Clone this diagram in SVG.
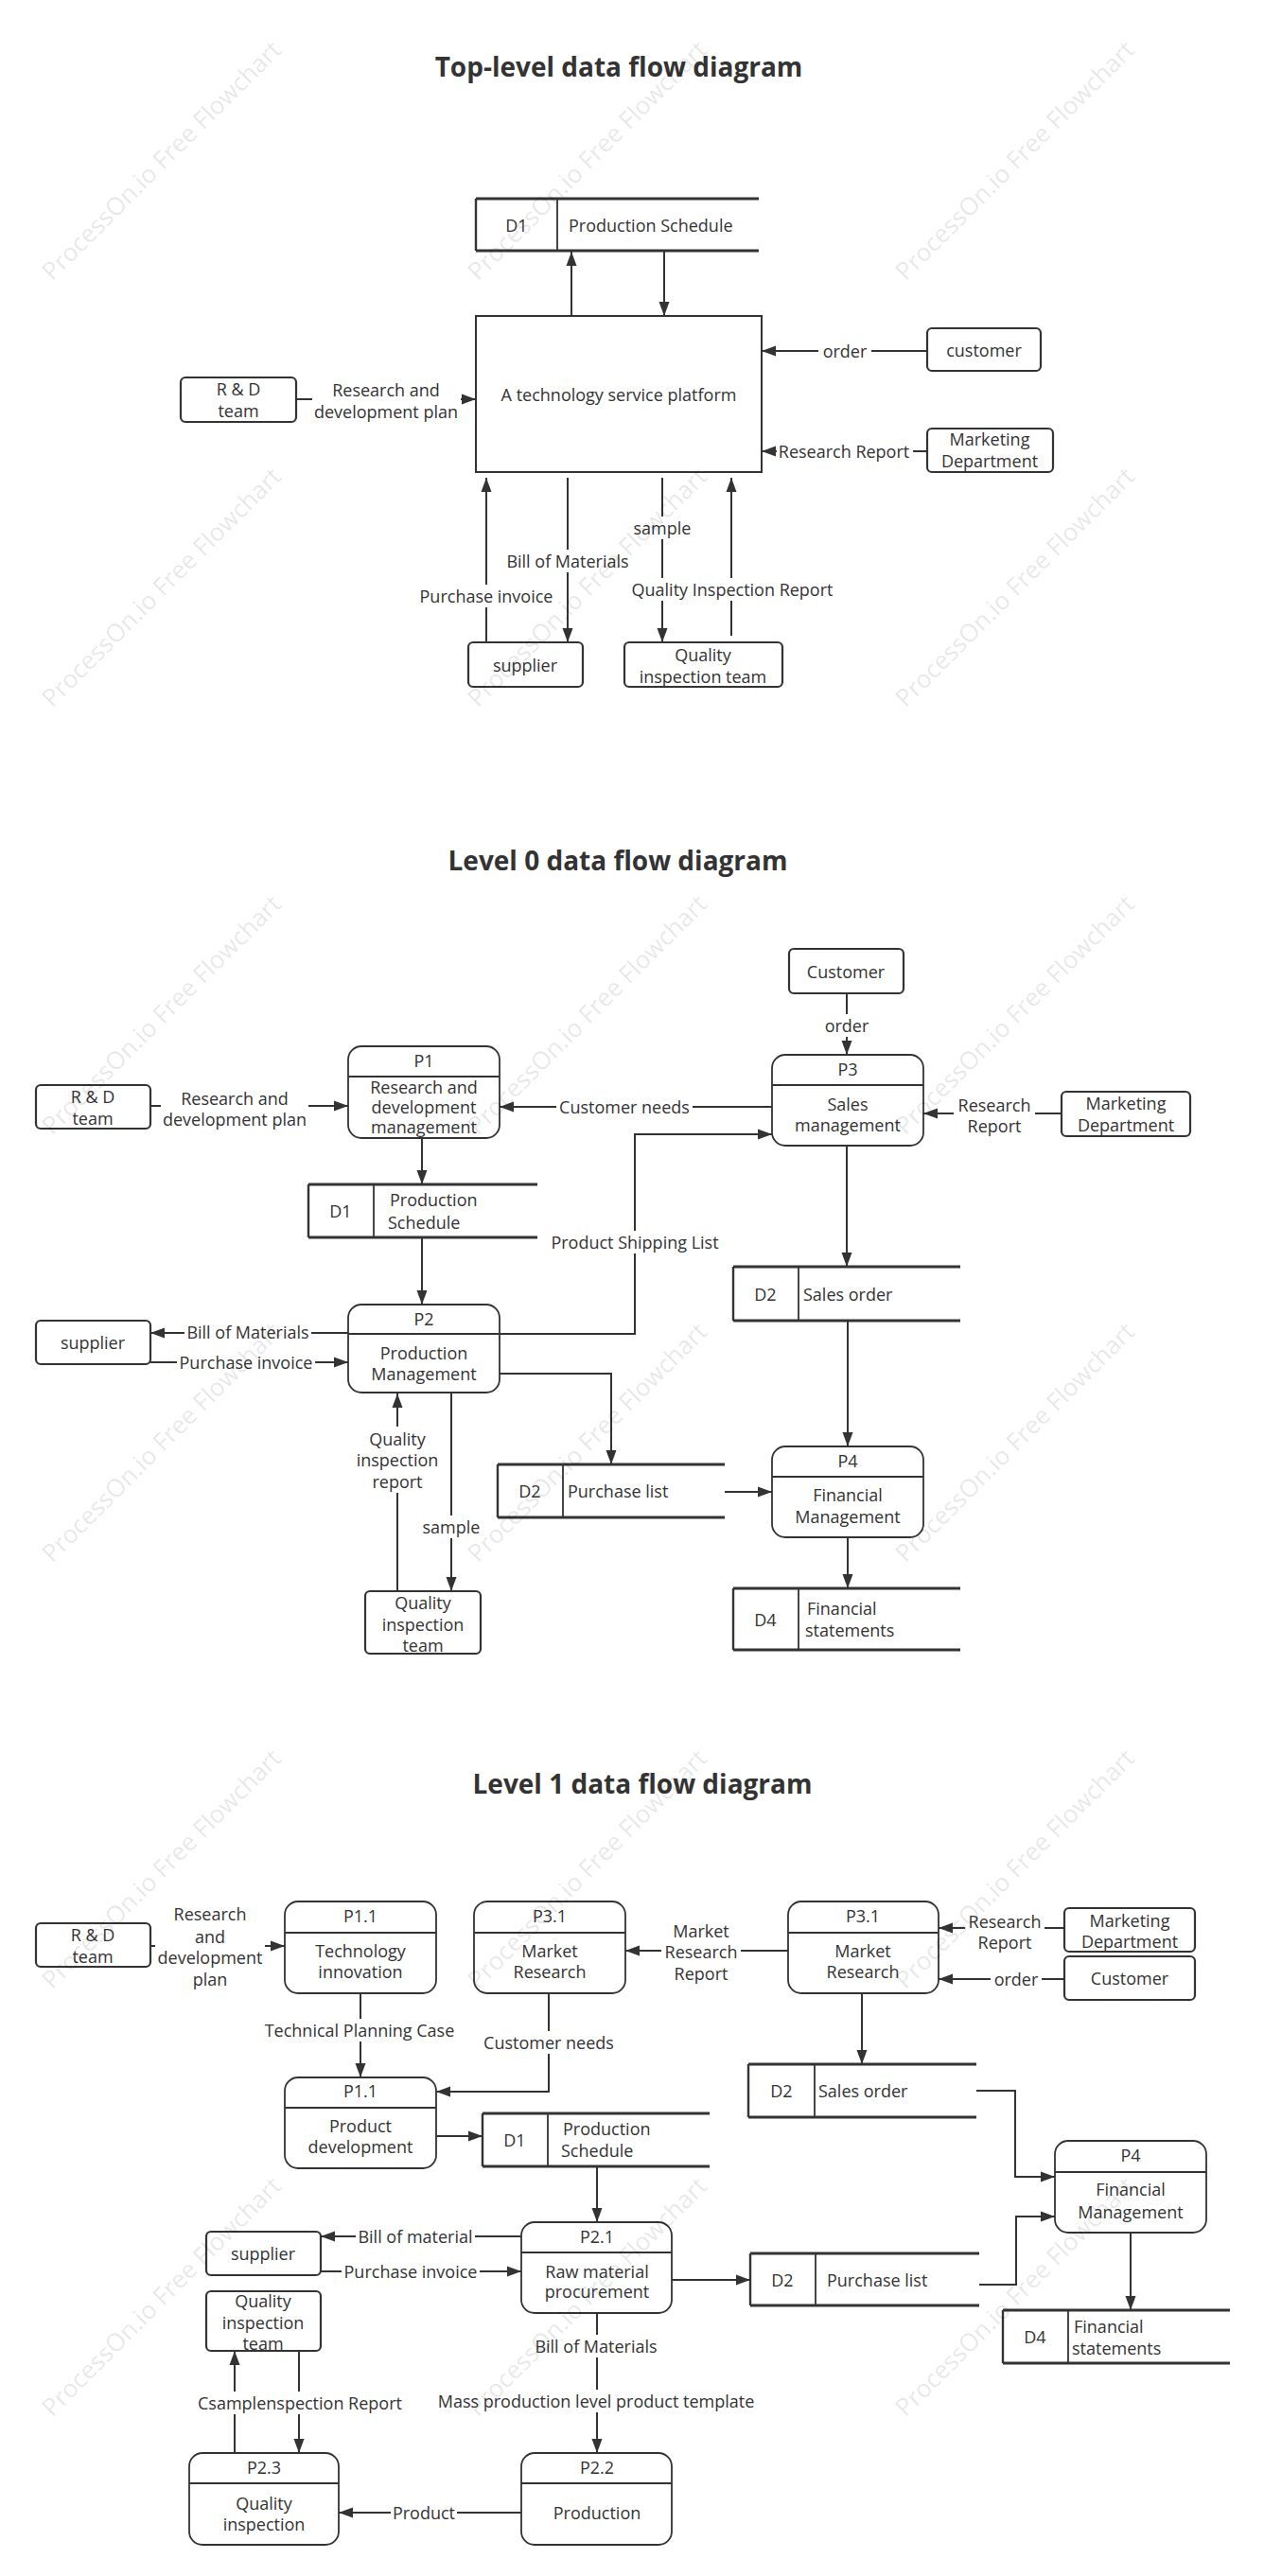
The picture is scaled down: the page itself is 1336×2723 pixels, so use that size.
<svg xmlns="http://www.w3.org/2000/svg" width="1336" height="2723" viewBox="0 0 1336 2723">
<defs>
<style>
.t{font-family:"Open Sans","Noto Sans","Liberation Sans",sans-serif;font-size:18px;fill:#333;text-anchor:middle;dominant-baseline:central}
.s{text-anchor:start}
.title{font-family:"Open Sans","Noto Sans","Liberation Sans",sans-serif;font-size:28px;font-weight:bold;fill:#333;text-anchor:middle;dominant-baseline:central}
.ent{fill:#fff;stroke:#333;stroke-width:2.2}
.box{fill:#fff;stroke:#333;stroke-width:2}
.proc{fill:#fff;stroke:#333;stroke-width:1.8}
.dv{stroke:#333;stroke-width:1.8}
.dsh{stroke:#333;stroke-width:3.2;fill:none}
.dsv{stroke:#333;stroke-width:2.4;fill:none}
.c{fill:none;stroke:#333;stroke-width:2;marker-end:url(#ah)}
.cn{fill:none;stroke:#333;stroke-width:2}
.bg{fill:#fff}
.wm{font-family:"Open Sans","Noto Sans",sans-serif;font-size:26px;fill:#000;fill-opacity:0.1;text-anchor:middle;dominant-baseline:central}
</style>
<marker id="ah" markerWidth="16" markerHeight="12" refX="15" refY="6" orient="auto" markerUnits="userSpaceOnUse"><path d="M0,0.5 L15,6 L0,11.5 z" fill="#333"/></marker>
</defs>
<rect width="1336" height="2723" fill="#fff"/>

<!-- ===== Top-level ===== -->
<text class="title" x="654" y="70">Top-level data flow diagram</text>

<g id="connectors-top">
<path class="c" d="M604,334 V266"/>
<path class="c" d="M702,266 V334"/>
<path class="c" d="M980,371 H805"/>
<path class="c" d="M980,477 H805"/>
<path class="c" d="M313,422 H503"/>
<path class="c" d="M514,679 V505"/>
<path class="c" d="M600,505 V679"/>
<path class="c" d="M700,505 V679"/>
<path class="c" d="M773,672 V505"/>
<rect class="bg" x="865" y="359" width="56" height="24"/>
<text class="t" x="893" y="371">order</text>
<rect class="bg" x="821" y="465" width="144" height="24"/>
<text class="t" x="892" y="477">Research Report</text>
<rect class="bg" x="330" y="400" width="157" height="47"/>
<text class="t" x="408" y="412">Research and</text>
<text class="t" x="408" y="435">development plan</text>
<rect class="bg" x="441" y="618" width="146" height="24"/>
<text class="t" x="514" y="630">Purchase invoice</text>
<rect class="bg" x="533" y="581" width="134" height="24"/>
<text class="t" x="600" y="593">Bill of Materials</text>
<rect class="bg" x="668" y="546" width="64" height="24"/>
<text class="t" x="700" y="558">sample</text>
<rect class="bg" x="665" y="611" width="218" height="24"/>
<text class="t" x="774" y="623">Quality Inspection Report</text>
</g>

<g id="top-d1">
<path class="dsh" d="M503,210 H802 M503,265 H802"/>
<path class="dsv" d="M503,210 V265"/>
<path class="dv" d="M589,210 V265"/>
<text class="t" x="546" y="238">D1</text>
<text class="t s" x="601" y="238">Production Schedule</text>
</g>
<g id="top-platform">
<rect class="box" x="503" y="334" width="302" height="165"/>
<text class="t" x="654" y="417">A technology service platform</text>
</g>
<g id="top-customer">
<rect class="ent" x="980" y="347" width="120" height="45" rx="5"/>
<text class="t" x="1040" y="370">customer</text>
</g>
<g id="top-marketing">
<rect class="ent" x="980" y="453" width="133" height="46" rx="5"/>
<text class="t" x="1046" y="464">Marketing</text>
<text class="t" x="1046" y="487">Department</text>
</g>
<g id="top-rd">
<rect class="ent" x="191" y="399" width="122" height="47" rx="5"/>
<text class="t" x="252" y="411">R &amp; D</text>
<text class="t" x="252" y="434">team</text>
</g>
<g id="top-supplier">
<rect class="ent" x="495" y="679" width="121" height="47" rx="5"/>
<text class="t" x="555" y="703">supplier</text>
</g>
<g id="top-qit">
<rect class="ent" x="660" y="679" width="167" height="47" rx="5"/>
<text class="t" x="743" y="692">Quality</text>
<text class="t" x="743" y="715">inspection team</text>
</g>

<!-- ===== Level 0 ===== -->
<text class="title" x="653" y="909">Level 0 data flow diagram</text>

<g id="connectors-l0">
<path class="c" d="M895,1050 V1115"/>
<path class="c" d="M1122,1177 H976"/>
<path class="c" d="M816,1170 H528"/>
<path class="c" d="M159,1169 H368"/>
<path class="c" d="M446,1203 V1252"/>
<path class="c" d="M446,1308 V1379"/>
<path class="c" d="M368,1409 H159"/>
<path class="c" d="M528,1410 H671 V1199 H816"/>
<path class="c" d="M159,1440 H368"/>
<path class="c" d="M528,1452 H646 V1548"/>
<path class="c" d="M895,1211 V1339"/>
<path class="c" d="M896,1396 V1529"/>
<path class="c" d="M766,1577 H816"/>
<path class="c" d="M896,1625 V1679"/>
<path class="c" d="M420,1682 V1473"/>
<path class="c" d="M477,1472 V1682"/>
<rect class="bg" x="868" y="1072" width="54" height="24"/>
<text class="t" x="895" y="1084">order</text>
<rect class="bg" x="1008" y="1156" width="86" height="46"/>
<text class="t" x="1051" y="1168">Research</text>
<text class="t" x="1051" y="1190">Report</text>
<rect class="bg" x="588" y="1158" width="144" height="24"/>
<text class="t" x="660" y="1170">Customer needs</text>
<rect class="bg" x="170" y="1149" width="156" height="46"/>
<text class="t" x="248" y="1161">Research and</text>
<text class="t" x="248" y="1183">development plan</text>
<rect class="bg" x="195" y="1396" width="134" height="24"/>
<text class="t" x="262" y="1408">Bill of Materials</text>
<rect class="bg" x="187" y="1428" width="146" height="24"/>
<text class="t" x="260" y="1440">Purchase invoice</text>
<rect class="bg" x="579" y="1301" width="184" height="24"/>
<text class="t" x="671" y="1313">Product Shipping List</text>
<rect class="bg" x="374" y="1508" width="92" height="70"/>
<text class="t" x="420" y="1521">Quality</text>
<text class="t" x="420" y="1543">inspection</text>
<text class="t" x="420" y="1566">report</text>
<rect class="bg" x="445" y="1602" width="64" height="24"/>
<text class="t" x="477" y="1614">sample</text>
</g>

<g id="l0-customer">
<rect class="ent" x="834" y="1003" width="121" height="47" rx="5"/>
<text class="t" x="894" y="1027">Customer</text>
</g>
<g id="l0-p3">
<rect class="proc" x="816" y="1115" width="160" height="96" rx="14"/>
<path class="dv" d="M816,1147 H976"/>
<text class="t" x="896" y="1130">P3</text>
<text class="t" x="896" y="1167">Sales</text>
<text class="t" x="896" y="1189">management</text>
</g>
<g id="l0-marketing">
<rect class="ent" x="1122" y="1154" width="136" height="47" rx="5"/>
<text class="t" x="1190" y="1166">Marketing</text>
<text class="t" x="1190" y="1189">Department</text>
</g>
<g id="l0-p1">
<rect class="proc" x="368" y="1106" width="160" height="97" rx="14"/>
<path class="dv" d="M368,1138 H528"/>
<text class="t" x="448" y="1121">P1</text>
<text class="t" x="448" y="1149">Research and</text>
<text class="t" x="448" y="1170">development</text>
<text class="t" x="448" y="1191">management</text>
</g>
<g id="l0-rd">
<rect class="ent" x="38" y="1147" width="121" height="46" rx="5"/>
<text class="t" x="98" y="1159">R &amp; D</text>
<text class="t" x="98" y="1182">team</text>
</g>
<g id="l0-d1">
<path class="dsh" d="M326,1252 H568 M326,1308 H568"/>
<path class="dsv" d="M326,1252 V1308"/>
<path class="dv" d="M395,1252 V1308"/>
<text class="t" x="360" y="1280">D1</text>
<text class="t s" x="412" y="1268">Production</text>
<text class="t s" x="410" y="1292">Schedule</text>
</g>
<g id="l0-p2">
<rect class="proc" x="368" y="1379" width="160" height="93" rx="14"/>
<path class="dv" d="M368,1410 H528"/>
<text class="t" x="448" y="1394">P2</text>
<text class="t" x="448" y="1430">Production</text>
<text class="t" x="448" y="1452">Management</text>
</g>
<g id="l0-supplier">
<rect class="ent" x="38" y="1396" width="121" height="46" rx="5"/>
<text class="t" x="98" y="1419">supplier</text>
</g>
<g id="l0-d2-purchase">
<path class="dsh" d="M526,1548 H766 M526,1604 H766"/>
<path class="dsv" d="M526,1548 V1604"/>
<path class="dv" d="M595,1548 V1604"/>
<text class="t" x="560" y="1576">D2</text>
<text class="t s" x="600" y="1576">Purchase list</text>
</g>
<g id="l0-d2-sales">
<path class="dsh" d="M775,1339 H1015 M775,1396 H1015"/>
<path class="dsv" d="M775,1339 V1396"/>
<path class="dv" d="M844,1339 V1396"/>
<text class="t" x="809" y="1368">D2</text>
<text class="t s" x="849" y="1368">Sales order</text>
</g>
<g id="l0-p4">
<rect class="proc" x="816" y="1529" width="160" height="96" rx="14"/>
<path class="dv" d="M816,1561 H976"/>
<text class="t" x="896" y="1544">P4</text>
<text class="t" x="896" y="1580">Financial</text>
<text class="t" x="896" y="1603">Management</text>
</g>
<g id="l0-d4">
<path class="dsh" d="M775,1679 H1015 M775,1744 H1015"/>
<path class="dsv" d="M775,1679 V1744"/>
<path class="dv" d="M844,1679 V1744"/>
<text class="t" x="809" y="1712">D4</text>
<text class="t s" x="853" y="1700">Financial</text>
<text class="t s" x="851" y="1723">statements</text>
</g>
<g id="l0-qit">
<rect class="ent" x="386" y="1682" width="122" height="66" rx="5"/>
<text class="t" x="447" y="1694">Quality</text>
<text class="t" x="447" y="1717">inspection</text>
<text class="t" x="447" y="1739">team</text>
</g>

<!-- ===== Level 1 ===== -->
<text class="title" x="679" y="1885">Level 1 data flow diagram</text>

<g id="connectors-l1">
<path class="c" d="M159,2057 H301"/>
<path class="c" d="M381,2107 V2196"/>
<path class="c" d="M580,2107 V2211 H461"/>
<path class="c" d="M833,2062 H661"/>
<path class="c" d="M1125,2038 H992"/>
<path class="c" d="M1125,2092 H992"/>
<path class="c" d="M911,2107 V2182"/>
<path class="c" d="M1032,2210 H1073 V2301 H1115"/>
<path class="c" d="M1035,2415 H1074 V2343 H1115"/>
<path class="c" d="M1195,2360 V2442"/>
<path class="c" d="M461,2258 H510"/>
<path class="c" d="M631,2290 V2349"/>
<path class="c" d="M551,2364 H339"/>
<path class="c" d="M339,2401 H551"/>
<path class="c" d="M710,2410 H793"/>
<path class="c" d="M631,2445 V2593"/>
<path class="c" d="M551,2656 H358"/>
<path class="c" d="M248,2593 V2485"/>
<path class="c" d="M316,2485 V2593"/>
<rect class="bg" x="164" y="2011" width="116" height="93"/>
<text class="t" x="222" y="2023">Research</text>
<text class="t" x="222" y="2047">and</text>
<text class="t" x="222" y="2069">development</text>
<text class="t" x="222" y="2092">plan</text>
<rect class="bg" x="278" y="2134" width="204" height="24"/>
<text class="t" x="380" y="2146">Technical Planning Case</text>
<rect class="bg" x="508" y="2147" width="144" height="24"/>
<text class="t" x="580" y="2159">Customer needs</text>
<rect class="bg" x="699" y="2029" width="84" height="69"/>
<text class="t" x="741" y="2041">Market</text>
<text class="t" x="741" y="2063">Research</text>
<text class="t" x="741" y="2086">Report</text>
<rect class="bg" x="1020" y="2019" width="84" height="46"/>
<text class="t" x="1062" y="2031">Research</text>
<text class="t" x="1062" y="2053">Report</text>
<rect class="bg" x="1047" y="2080" width="54" height="24"/>
<text class="t" x="1074" y="2092">order</text>
<rect class="bg" x="376" y="2352" width="126" height="24"/>
<text class="t" x="439" y="2364">Bill of material</text>
<rect class="bg" x="361" y="2389" width="146" height="24"/>
<text class="t" x="434" y="2401">Purchase invoice</text>
<rect class="bg" x="563" y="2468" width="134" height="24"/>
<text class="t" x="630" y="2480">Bill of Materials</text>
<rect class="bg" x="458" y="2526" width="344" height="24"/>
<text class="t" x="630" y="2538">Mass production level product template</text>
<rect class="bg" x="413" y="2644" width="70" height="24"/>
<text class="t" x="448" y="2656">Product</text>
<rect class="bg" x="206" y="2528" width="222" height="24"/>
<text class="t" x="317" y="2540">Csamplenspection Report</text>
</g>

<g id="l1-rd">
<rect class="ent" x="38" y="2033" width="121" height="46" rx="5"/>
<text class="t" x="98" y="2045">R &amp; D</text>
<text class="t" x="98" y="2068">team</text>
</g>
<g id="l1-p11-tech">
<rect class="proc" x="301" y="2010" width="160" height="97" rx="14"/>
<path class="dv" d="M301,2043 H461"/>
<text class="t" x="381" y="2025">P1.1</text>
<text class="t" x="381" y="2062">Technology</text>
<text class="t" x="381" y="2084">innovation</text>
</g>
<g id="l1-p31-mid">
<rect class="proc" x="501" y="2010" width="160" height="97" rx="14"/>
<path class="dv" d="M501,2043 H661"/>
<text class="t" x="581" y="2025">P3.1</text>
<text class="t" x="581" y="2062">Market</text>
<text class="t" x="581" y="2084">Research</text>
</g>
<g id="l1-p31-right">
<rect class="proc" x="833" y="2010" width="159" height="97" rx="14"/>
<path class="dv" d="M833,2043 H992"/>
<text class="t" x="912" y="2025">P3.1</text>
<text class="t" x="912" y="2062">Market</text>
<text class="t" x="912" y="2084">Research</text>
</g>
<g id="l1-marketing">
<rect class="ent" x="1125" y="2017" width="138" height="46" rx="5"/>
<text class="t" x="1194" y="2030">Marketing</text>
<text class="t" x="1194" y="2052">Department</text>
</g>
<g id="l1-customer">
<rect class="ent" x="1125" y="2068" width="138" height="46" rx="5"/>
<text class="t" x="1194" y="2091">Customer</text>
</g>
<g id="l1-p11-prod">
<rect class="proc" x="301" y="2196" width="160" height="96" rx="14"/>
<path class="dv" d="M301,2228 H461"/>
<text class="t" x="381" y="2210">P1.1</text>
<text class="t" x="381" y="2247">Product</text>
<text class="t" x="381" y="2269">development</text>
</g>
<g id="l1-d1">
<path class="dsh" d="M510,2234 H750 M510,2290 H750"/>
<path class="dsv" d="M510,2234 V2290"/>
<path class="dv" d="M579,2234 V2290"/>
<text class="t" x="544" y="2262">D1</text>
<text class="t s" x="595" y="2250">Production</text>
<text class="t s" x="593" y="2273">Schedule</text>
</g>
<g id="l1-d2-sales">
<path class="dsh" d="M791,2182 H1032 M791,2238 H1032"/>
<path class="dsv" d="M791,2182 V2238"/>
<path class="dv" d="M861,2182 V2238"/>
<text class="t" x="826" y="2210">D2</text>
<text class="t s" x="865" y="2210">Sales order</text>
</g>
<g id="l1-p4">
<rect class="proc" x="1115" y="2263" width="160" height="97" rx="14"/>
<path class="dv" d="M1115,2296 H1275"/>
<text class="t" x="1195" y="2278">P4</text>
<text class="t" x="1195" y="2314">Financial</text>
<text class="t" x="1195" y="2338">Management</text>
</g>
<g id="l1-d2-purchase">
<path class="dsh" d="M793,2382 H1035 M793,2437 H1035"/>
<path class="dsv" d="M793,2382 V2437"/>
<path class="dv" d="M862,2382 V2437"/>
<text class="t" x="827" y="2410">D2</text>
<text class="t s" x="874" y="2410">Purchase list</text>
</g>
<g id="l1-d4">
<path class="dsh" d="M1060,2442 H1300 M1060,2498 H1300"/>
<path class="dsv" d="M1060,2442 V2498"/>
<path class="dv" d="M1129,2442 V2498"/>
<text class="t" x="1094" y="2470">D4</text>
<text class="t s" x="1135" y="2459">Financial</text>
<text class="t s" x="1133" y="2482">statements</text>
</g>
<g id="l1-p21">
<rect class="proc" x="551" y="2349" width="159" height="96" rx="14"/>
<path class="dv" d="M551,2381 H710"/>
<text class="t" x="631" y="2364">P2.1</text>
<text class="t" x="631" y="2401">Raw material</text>
<text class="t" x="631" y="2422">procurement</text>
</g>
<g id="l1-supplier">
<rect class="ent" x="218" y="2359" width="121" height="46" rx="5"/>
<text class="t" x="278" y="2382">supplier</text>
</g>
<g id="l1-qit">
<rect class="ent" x="218" y="2422" width="121" height="63" rx="5"/>
<text class="t" x="278" y="2432">Quality</text>
<text class="t" x="278" y="2455">inspection</text>
<text class="t" x="278" y="2477">team</text>
</g>
<g id="l1-p22">
<rect class="proc" x="551" y="2593" width="159" height="97" rx="14"/>
<path class="dv" d="M551,2625 H710"/>
<text class="t" x="631" y="2608">P2.2</text>
<text class="t" x="631" y="2656">Production</text>
</g>
<g id="l1-p23">
<rect class="proc" x="200" y="2593" width="158" height="97" rx="14"/>
<path class="dv" d="M200,2625 H358"/>
<text class="t" x="279" y="2608">P2.3</text>
<text class="t" x="279" y="2646">Quality</text>
<text class="t" x="279" y="2668">inspection</text>
</g>

<g id="watermarks">
<text class="wm" transform="translate(170,169) rotate(-45)">ProcessOn.io Free Flowchart</text>
<text class="wm" transform="translate(620,169) rotate(-45)">ProcessOn.io Free Flowchart</text>
<text class="wm" transform="translate(1072,169) rotate(-45)">ProcessOn.io Free Flowchart</text>
<text class="wm" transform="translate(170,620) rotate(-45)">ProcessOn.io Free Flowchart</text>
<text class="wm" transform="translate(620,620) rotate(-45)">ProcessOn.io Free Flowchart</text>
<text class="wm" transform="translate(1072,620) rotate(-45)">ProcessOn.io Free Flowchart</text>
<text class="wm" transform="translate(170,1072) rotate(-45)">ProcessOn.io Free Flowchart</text>
<text class="wm" transform="translate(620,1072) rotate(-45)">ProcessOn.io Free Flowchart</text>
<text class="wm" transform="translate(1072,1072) rotate(-45)">ProcessOn.io Free Flowchart</text>
<text class="wm" transform="translate(170,1524) rotate(-45)">ProcessOn.io Free Flowchart</text>
<text class="wm" transform="translate(620,1524) rotate(-45)">ProcessOn.io Free Flowchart</text>
<text class="wm" transform="translate(1072,1524) rotate(-45)">ProcessOn.io Free Flowchart</text>
<text class="wm" transform="translate(170,1975) rotate(-45)">ProcessOn.io Free Flowchart</text>
<text class="wm" transform="translate(620,1975) rotate(-45)">ProcessOn.io Free Flowchart</text>
<text class="wm" transform="translate(1072,1975) rotate(-45)">ProcessOn.io Free Flowchart</text>
<text class="wm" transform="translate(170,2427) rotate(-45)">ProcessOn.io Free Flowchart</text>
<text class="wm" transform="translate(620,2427) rotate(-45)">ProcessOn.io Free Flowchart</text>
<text class="wm" transform="translate(1072,2427) rotate(-45)">ProcessOn.io Free Flowchart</text>
</g>
</svg>
